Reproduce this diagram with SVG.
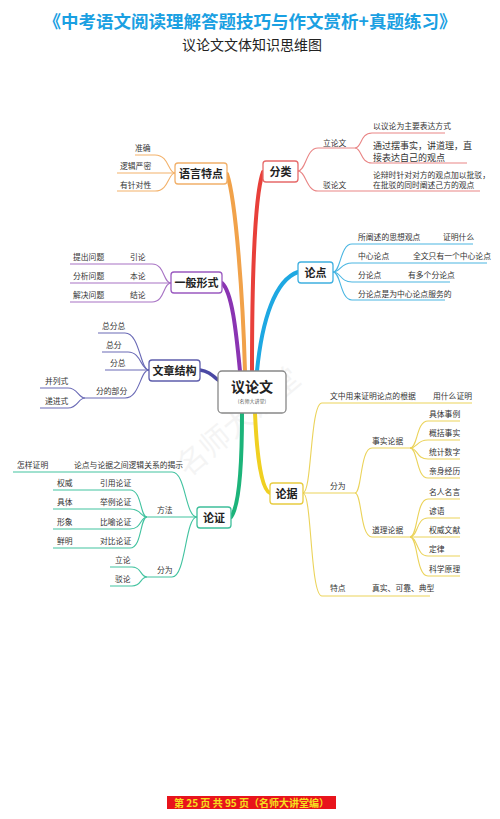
<svg xmlns="http://www.w3.org/2000/svg" width="500" height="819" viewBox="0 0 500 819">
<style>
text{font-family:"Noto Sans CJK SC","Noto Sans",sans-serif;fill:#333;font-size:7.8px}
.nl{font-size:11px;font-weight:bold;fill:#222;text-anchor:middle}
.box{fill:#fff;stroke-width:1.3}
.l{fill:none;stroke-width:1.1}
.m{fill:none;stroke-linecap:round}
.or{stroke:#f3b26b}.rd{stroke:#e98585}.pu{stroke:#a772c4}.bl{stroke:#4ab6e2}.in{stroke:#6a6ab6}.gr{stroke:#42c3a0}.ye{stroke:#ebd35a}
</style>
<rect width="500" height="819" fill="#fff"/>
<text x="250" y="28" text-anchor="middle" style="font-size:17.5px;font-weight:bold;fill:#1aa0e2">《中考语文阅读理解答题技巧与作文赏析+真题练习》</text>
<text x="252" y="50" text-anchor="middle" style="font-size:14px;fill:#222">议论文文体知识思维图</text>
<text x="245" y="430" text-anchor="middle" transform="rotate(-40 245 430)" style="font-size:30px;fill:#000;opacity:0.04">名师大讲堂</text>

<g id="connectors">
<path class="m" stroke="#f1a24a" stroke-width="4" d="M245,371 C243,300 236,200 227,174"/>
<path class="m" stroke="#e8403a" stroke-width="4" d="M252,371 C252,300 253,200 263,172"/>
<path class="m" stroke="#8a34b2" stroke-width="4" d="M240,371 C236,330 232,292 222,283"/>
<path class="m" stroke="#1ea8e2" stroke-width="4" d="M257,371 C262,320 275,280 298,272"/>
<path class="m" stroke="#4a48a4" stroke-width="3.5" d="M218,380 C212,375 208,371 200,370"/>
<path class="m" stroke="#1cb47a" stroke-width="4" d="M242,413 C242,460 240,505 231,517"/>
<path class="m" stroke="#f0d021" stroke-width="4" d="M255,413 C257,460 262,490 270,493"/>

<g class="or">
<path class="l" d="M175,173 C168,173 169,155 155,155 H135"/>
<path class="l" d="M175,173 H117"/>
<path class="l" d="M175,173 C168,173 169,191 155,191 H117"/>
</g>
<g class="rd">
<path class="l" d="M298,171 C306,171 306,148 318,148 H355"/>
<path class="l" d="M355,148 C362,148 360,133 372,133 H445"/>
<path class="l" d="M355,148 C362,148 360,163 372,163 H467"/>
<path class="l" d="M298,171 C306,171 306,191 318,191 H480"/>
</g>
<g class="bl">
<path class="l" d="M333,272 C341,272 340,244 352,244 H473"/>
<path class="l" d="M333,272 C341,272 340,263 352,263 H487"/>
<path class="l" d="M333,272 C341,272 340,282 352,282 H450"/>
<path class="l" d="M333,272 C341,272 340,300 352,300 H445"/>
</g>
<g class="pu">
<path class="l" d="M171,283 C163,283 165,264 152,264 H70"/>
<path class="l" d="M171,283 H70"/>
<path class="l" d="M171,283 C163,283 165,302 152,302 H70"/>
</g>
<g class="in">
<path class="l" d="M149,370 C140,370 140,333 125,333 H98"/>
<path class="l" d="M149,370 C141,370 141,352 128,352 H102"/>
<path class="l" d="M149,370 H105"/>
<path class="l" d="M149,370 C140,370 140,398 125,398 H85"/>
<path class="l" d="M85,398 C78,398 78,388 68,388 H40"/>
<path class="l" d="M85,398 C78,398 78,408 68,408 H40"/>
</g>
<g class="gr">
<path class="l" d="M197,517 C185,517 186,472 172,472 H13"/>
<path class="l" d="M197,517 H147"/>
<path class="l" d="M147,517 C140,517 142,490 130,490 H53"/>
<path class="l" d="M147,517 C140,517 142,509 130,509 H53"/>
<path class="l" d="M147,517 C140,517 142,529 130,529 H53"/>
<path class="l" d="M147,517 C140,517 142,548 130,548 H53"/>
<path class="l" d="M197,517 C185,517 186,577 172,577 H147"/>
<path class="l" d="M147,577 C140,577 142,567 132,567 H110"/>
<path class="l" d="M147,577 C140,577 142,586 132,586 H110"/>
</g>
<g class="ye">
<path class="l" d="M303,493 C312,493 310,403 322,403 H472"/>
<path class="l" d="M303,493 H355"/>
<path class="l" d="M355,493 C362,493 360,448 372,448 H410"/>
<path class="l" d="M410,448 C418,448 416,421 428,421 H460"/>
<path class="l" d="M410,448 C418,448 416,440 428,440 H460"/>
<path class="l" d="M410,448 C418,448 416,459 428,459 H460"/>
<path class="l" d="M410,448 C418,448 416,478 428,478 H460"/>
<path class="l" d="M355,493 C362,493 360,537 372,537 H410"/>
<path class="l" d="M410,537 C418,537 416,499 428,499 H460"/>
<path class="l" d="M410,537 C418,537 416,518 428,518 H460"/>
<path class="l" d="M410,537 H460"/>
<path class="l" d="M410,537 C418,537 416,556 428,556 H460"/>
<path class="l" d="M410,537 C418,537 416,576 428,576 H460"/>
<path class="l" d="M303,493 C312,493 310,596 322,596 H430"/>
</g>
</g>

<g id="center">
<rect x="218" y="371" width="68" height="42" rx="4" fill="#fff" stroke="#888" stroke-width="1.3"/>
<text x="252" y="392" text-anchor="middle" style="font-size:14px;font-weight:bold;fill:#222">议论文</text>
<text x="252" y="403" text-anchor="middle" style="font-size:5px;fill:#555">(名师大讲堂)</text>
</g>

<g id="yuyan">
<rect class="box" x="175" y="163" width="52" height="21" rx="3" stroke="#f1b06a"/>
<text class="nl" x="201" y="177.5">语言特点</text>
<text x="135" y="151">准确</text>
<text x="120" y="169">逻辑严密</text>
<text x="120" y="188">有针对性</text>
</g>

<g id="fenlei">
<rect class="box" x="263" y="161" width="35" height="21" rx="3" stroke="#e66a6a"/>
<text class="nl" x="280.5" y="175.5">分类</text>
<text x="323" y="146">立论文</text>
<text x="373" y="129">以议论为主要表达方式</text>
<text x="373" y="149" style="font-size:9px">通过摆事实，讲道理，直</text>
<text x="373" y="161" style="font-size:9px">接表达自己的观点</text>
<text x="323" y="188">驳论文</text>
<text x="373" y="177.5">论辩时针对对方的观点加以批驳，</text>
<text x="373" y="188">在批驳的同时阐述己方的观点</text>
</g>

<g id="lundian">
<rect class="box" x="298" y="262" width="35" height="21" rx="3" stroke="#3fb0e0"/>
<text class="nl" x="315.5" y="276.5">论点</text>
<text x="358" y="240">所阐述的思想观点</text>
<text x="443" y="240">证明什么</text>
<text x="358" y="259">中心论点</text>
<text x="413" y="259">全文只有一个中心论点</text>
<text x="358" y="278">分论点</text>
<text x="408" y="278">有多个分论点</text>
<text x="358" y="297">分论点是为中心论点服务的</text>
</g>

<g id="yiban">
<rect class="box" x="171" y="272" width="51" height="21" rx="3" stroke="#9a5ac0"/>
<text class="nl" x="196.5" y="286.5">一般形式</text>
<text x="73" y="260">提出问题</text>
<text x="130" y="260">引论</text>
<text x="73" y="279">分析问题</text>
<text x="130" y="279">本论</text>
<text x="73" y="298">解决问题</text>
<text x="130" y="298">结论</text>
</g>

<g id="jiegou">
<rect class="box" x="149" y="360" width="51" height="21" rx="3" stroke="#5e5eac"/>
<text class="nl" x="174.5" y="374.5">文章结构</text>
<text x="102" y="329">总分总</text>
<text x="106" y="348">总分</text>
<text x="110" y="366">分总</text>
<text x="96" y="394">分的部分</text>
<text x="45" y="384">并列式</text>
<text x="45" y="404">递进式</text>
</g>

<g id="lunzheng">
<rect class="box" x="197" y="507" width="34" height="21" rx="3" stroke="#3ebf9a"/>
<text class="nl" x="214" y="521.5">论证</text>
<text x="17" y="468">怎样证明</text>
<text x="74" y="468">论点与论据之间逻辑关系的揭示</text>
<text x="157" y="513">方法</text>
<text x="57" y="486">权威</text>
<text x="100" y="486">引用论证</text>
<text x="57" y="505">具体</text>
<text x="100" y="505">举例论证</text>
<text x="57" y="525">形象</text>
<text x="100" y="525">比喻论证</text>
<text x="57" y="544">鲜明</text>
<text x="100" y="544">对比论证</text>
<text x="157" y="573">分为</text>
<text x="115" y="563">立论</text>
<text x="115" y="582">驳论</text>
</g>

<g id="lunju">
<rect class="box" x="270" y="483" width="33" height="21" rx="3" stroke="#e8cc40"/>
<text class="nl" x="286.5" y="497.5">论据</text>
<text x="330" y="399">文中用来证明论点的根据</text>
<text x="433" y="399">用什么证明</text>
<text x="330" y="489">分为</text>
<text x="372" y="444">事实论据</text>
<text x="429" y="417">具体事例</text>
<text x="429" y="436">概括事实</text>
<text x="429" y="455">统计数字</text>
<text x="429" y="474">亲身经历</text>
<text x="372" y="533">道理论据</text>
<text x="429" y="495">名人名言</text>
<text x="429" y="514">谚语</text>
<text x="429" y="533">权威文献</text>
<text x="429" y="552">定律</text>
<text x="429" y="572">科学原理</text>
<text x="330" y="591">特点</text>
<text x="372" y="591">真实、可靠、典型</text>
</g>

<g id="footer">
<rect x="167" y="796" width="169" height="13" fill="#e8141c"/>
<text x="251.5" y="806.5" text-anchor="middle" style="font-size:10px;font-weight:bold;fill:#f5e020">第 25 页 共 95 页（名师大讲堂编）</text>
</g>
</svg>
